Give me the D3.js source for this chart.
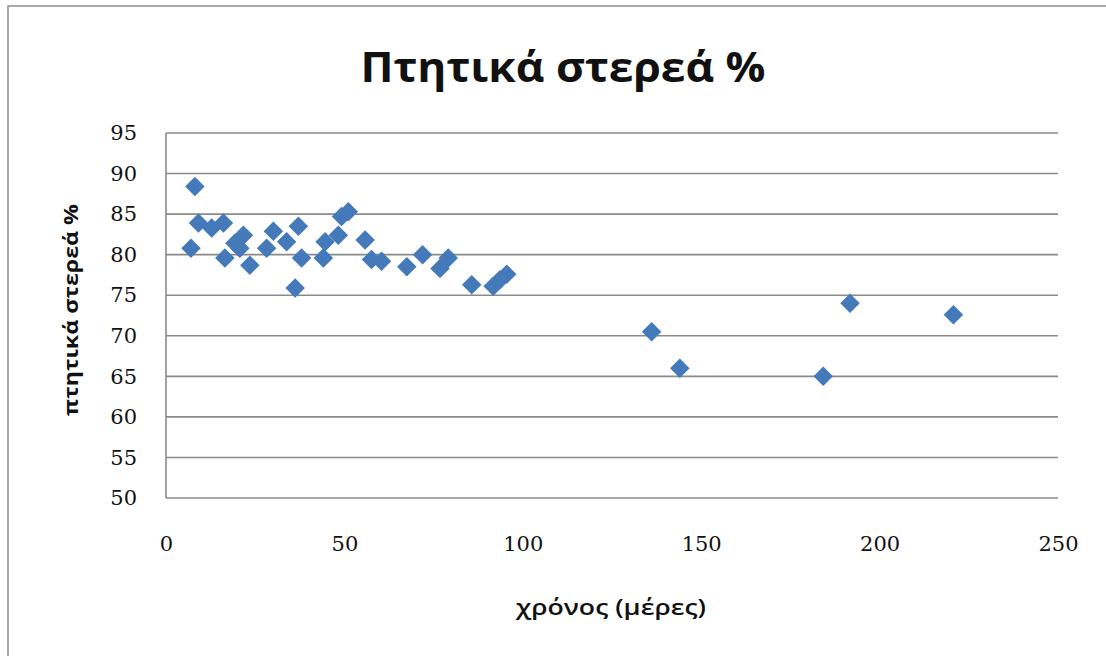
<!DOCTYPE html>
<html>
<head>
<meta charset="utf-8">
<script src="https://cdn.jsdelivr.net/npm/d3@7"></script>
<style>
  html, body { margin: 0; padding: 0; background: #fff; }
  svg { display: block; }
</style>
</head>
<body>
<svg id="chart" width="1106" height="656"></svg>
<script>
// Sampling time (days) and volatile solids (%) of each sample
const days = [
  7.0, 8.1, 9.1, 12.8, 16.1, 16.5, 19.3, 20.7, 21.7, 23.5,
  28.2, 30.1, 33.8, 36.2, 37.1, 38.0, 44.1, 44.6, 48.3, 49.2,
  51.1, 55.8, 57.6, 60.4, 67.5, 71.9, 76.8, 79.1, 85.7, 91.7,
  93.6, 95.5, 136.1, 144.0, 184.2, 191.7, 220.7
];
const volatileSolids = [
  80.8, 88.4, 83.9, 83.3, 83.9, 79.6, 81.4, 80.8, 82.4, 78.7,
  80.8, 82.9, 81.6, 75.9, 83.5, 79.6, 79.6, 81.6, 82.4, 84.7,
  85.3, 81.8, 79.4, 79.2, 78.5, 80.0, 78.3, 79.6, 76.3, 76.1,
  76.9, 77.6, 70.5, 66.0, 65.0, 74.0, 72.6
];
const xTicks = [0, 50, 100, 150, 200, 250];
const yTicks = [50, 55, 60, 65, 70, 75, 80, 85, 90, 95];

const titleText = "Πτητικά στερεά %";
const xTitle = "χρόνος (μέρες)";
const yTitle = "πτητικά στερεά %";

const svg = d3.select("#chart");
const W = 1106, H = 656;

// Chart frame
svg.append("rect")
  .attr("x", 8).attr("y", 6)
  .attr("width", W).attr("height", H)
  .attr("fill", "#fff")
  .attr("stroke", "#8c8c8c")
  .attr("stroke-width", 1.5);

const plot = { left: 166, right: 1058, top: 133, bottom: 498 };

const x = d3.scaleLinear().domain([0, 250]).range([plot.left, plot.right]);
const y = d3.scaleLinear().domain([50, 95]).range([plot.bottom, plot.top]);

// Horizontal gridlines
svg.append("g")
  .selectAll("line")
  .data(yTicks)
  .join("line")
  .attr("x1", plot.left).attr("x2", plot.right)
  .attr("y1", d => y(d)).attr("y2", d => y(d))
  .attr("stroke", "#8a8a8a")
  .attr("stroke-width", 1.6);

// Vertical axis line
svg.append("line")
  .attr("x1", plot.left).attr("x2", plot.left)
  .attr("y1", plot.top).attr("y2", plot.bottom)
  .attr("stroke", "#8a8a8a")
  .attr("stroke-width", 1.6);

const tickFont = "'DejaVu Serif', 'Liberation Serif', serif";

// Y axis labels
const yAxis = svg.append("g")
  .attr("transform", `translate(${plot.left - 29},0)`)
  .call(d3.axisLeft(y).tickValues(yTicks).tickSize(0).tickPadding(0));
yAxis.select(".domain").remove();
yAxis.selectAll("text")
  .attr("font-family", tickFont)
  .attr("font-size", 21)
  .attr("fill", "#111");

// X axis labels
const xAxis = svg.append("g")
  .attr("transform", `translate(0,${plot.bottom + 38})`)
  .call(d3.axisBottom(x).tickValues(xTicks).tickSize(0).tickPadding(0));
xAxis.select(".domain").remove();
xAxis.selectAll("text")
  .attr("font-family", tickFont)
  .attr("font-size", 21)
  .attr("fill", "#111");

// Data markers: diamonds (squares turned 45°)
const diamond = d3.symbol().type(d3.symbolSquare).size(190);
svg.append("g")
  .selectAll("path")
  .data(days.map((d, i) => [d, volatileSolids[i]]))
  .join("path")
  .attr("d", diamond)
  .attr("transform", d => `translate(${x(d[0])},${y(d[1])}) rotate(45)`)
  .attr("fill", "#4479ba");

const sansFont = "'Open Sans', 'Noto Sans', 'DejaVu Sans', sans-serif";

// Title
svg.append("text")
  .attr("x", 563).attr("y", 82)
  .attr("text-anchor", "middle")
  .attr("font-family", sansFont)
  .attr("font-weight", 700)
  .attr("font-size", 41)
  .attr("textLength", 405)
  .attr("lengthAdjust", "spacingAndGlyphs")
  .attr("fill", "#111")
  .text(titleText);

// X axis title
svg.append("text")
  .attr("x", 611).attr("y", 615)
  .attr("text-anchor", "middle")
  .attr("font-family", sansFont)
  .attr("font-weight", 600)
  .attr("font-size", 21)
  .attr("textLength", 190)
  .attr("lengthAdjust", "spacingAndGlyphs")
  .attr("fill", "#111")
  .text(xTitle);

// Y axis title
svg.append("text")
  .attr("transform", "translate(78,310) rotate(-90)")
  .attr("text-anchor", "middle")
  .attr("font-family", sansFont)
  .attr("font-weight", 700)
  .attr("font-size", 20)
  .attr("textLength", 212)
  .attr("lengthAdjust", "spacingAndGlyphs")
  .attr("fill", "#111")
  .text(yTitle);
</script>
</body>
</html>
